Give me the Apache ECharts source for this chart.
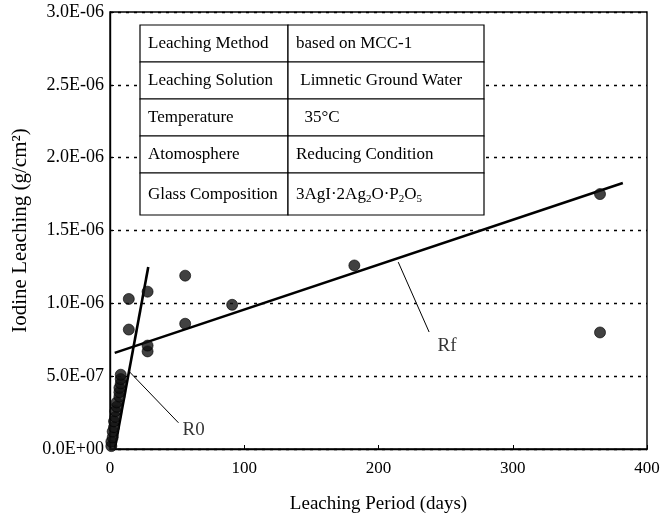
<!DOCTYPE html>
<html>
<head>
<meta charset="UTF-8">
<title>Iodine Leaching</title>
<script src="https://cdn.jsdelivr.net/npm/echarts@6/dist/echarts.min.js"></script>
<style>
  html, body { margin: 0; padding: 0; background: #fff; }
  #chart { width: 672px; height: 526px; }
</style>
</head>
<body>
<div id="chart"></div>
<script>
// measured points: [days, g/cm2]
var measured = [
  [1, 0.02e-6], [1, 0.05e-6], [2, 0.08e-6], [2, 0.12e-6], [3, 0.15e-6],
  [3, 0.19e-6], [4, 0.22e-6], [4, 0.26e-6], [5, 0.29e-6], [5, 0.32e-6],
  [7, 0.36e-6], [7, 0.39e-6], [7, 0.42e-6], [8, 0.45e-6], [8, 0.48e-6], [8, 0.51e-6],
  [14, 0.82e-6], [14, 1.03e-6],
  [28, 0.67e-6], [28, 0.71e-6], [28, 1.08e-6],
  [56, 0.86e-6], [56, 1.19e-6],
  [91, 0.99e-6],
  [182, 1.26e-6],
  [365, 1.75e-6], [365, 0.80e-6]
];
// fitted lines
var lineR0 = [[3.5, 0], [28.5, 1.25e-6]];
var lineRf = [[3.5, 0.66e-6], [382, 1.826e-6]];
// leader lines to labels
var leaderR0 = [[14.5, 0.53e-6], [51, 0.18e-6]];
var leaderRf = [[214.7, 1.283e-6], [237.7, 0.803e-6]];
var labelPoints = [
  { name: 'R0', value: [54, 0.13e-6] },
  { name: 'Rf', value: [244, 0.71e-6] }
];
var xTicks = [0, 100, 200, 300, 400];
var yTickLabels = ['0.0E+00', '5.0E-07', '1.0E-06', '1.5E-06', '2.0E-06', '2.5E-06', '3.0E-06'];
var tableRows = [
  ['Leaching Method', 'based on MCC-1'],
  ['Leaching Solution', ' Limnetic Ground Water'],
  ['Temperature', '  35°C'],
  ['Atomosphere', 'Reducing Condition'],
  ['Glass Composition', '{m|3AgI·2Ag}{s|2}{m|O·P}{s|2}{m|O}{s|5}']
];

var serif = 'Liberation Serif';
var chart = echarts.init(document.getElementById('chart'));

// table as graphic elements
var tx = 140, col1 = 148, col2 = 196;
var rowTops = [25, 62, 99, 136, 173, 215];
var tableEls = [];
tableRows.forEach(function (row, i) {
  var y = rowTops[i], h = rowTops[i + 1] - rowTops[i];
  var mid = i === 4 ? y + 22 : y + h / 2;
  tableEls.push({ type: 'rect', shape: { x: tx, y: y, width: col1, height: h },
    style: { fill: '#fff', stroke: '#000', lineWidth: 1.2 }, z: 10 });
  tableEls.push({ type: 'rect', shape: { x: tx + col1, y: y, width: col2, height: h },
    style: { fill: '#fff', stroke: '#000', lineWidth: 1.2 }, z: 10 });
  tableEls.push({ type: 'text', x: tx + 8, y: mid, z: 11,
    style: { text: row[0], font: '17px "' + serif + '"', fill: '#000', verticalAlign: 'middle' } });
  tableEls.push({ type: 'text', x: tx + col1 + 8, y: mid, z: 11,
    style: { text: row[1], font: '17px "' + serif + '"', fill: '#000', verticalAlign: 'middle',
      rich: {
        m: { fontFamily: serif, fontSize: 17, lineHeight: 20 },
        s: { fontFamily: serif, fontSize: 11, lineHeight: 8, verticalAlign: 'bottom' }
      } } });
});

var lineStyleThick = { color: '#000', width: 2.6 };

chart.setOption({
  animation: false,
  textStyle: { fontFamily: serif, color: '#000' },
  grid: { left: 110, right: 25, top: 12, bottom: 77, show: true, borderColor: '#000', borderWidth: 1.4 },
  xAxis: {
    type: 'value', min: 0, max: 400, interval: 100,
    name: 'Leaching Period (days)', nameLocation: 'middle', nameGap: 46,
    nameTextStyle: { fontFamily: serif, fontSize: 19, color: '#000' },
    axisLine: { lineStyle: { color: '#000', width: 1.4 } },
    axisTick: { inside: true, length: 4, lineStyle: { color: '#000' } },
    axisLabel: { fontFamily: serif, fontSize: 17, color: '#000', margin: 11,
      formatter: function (v) { return xTicks.indexOf(v) >= 0 ? String(v) : ''; } },
    splitLine: { show: false }
  },
  yAxis: {
    type: 'value', min: 0, max: 3e-6, interval: 5e-7,
    name: 'Iodine Leaching (g/cm²)', nameLocation: 'middle', nameGap: 69,
    nameTextStyle: { fontFamily: serif, fontSize: 21, color: '#000' },
    axisLine: { lineStyle: { color: '#000', width: 1.4 } },
    axisTick: { inside: true, length: 4, lineStyle: { color: '#000' } },
    axisLabel: { fontFamily: serif, fontSize: 18, color: '#000', margin: 6,
      formatter: function (v) { return yTickLabels[Math.round(v / 5e-7)]; } },
    splitLine: { show: true, lineStyle: { color: '#000', width: 1.3, type: [3, 5] } }
  },
  graphic: tableEls,
  series: [
    { type: 'line', data: lineR0, symbol: 'none', lineStyle: lineStyleThick, z: 3 },
    { type: 'line', data: lineRf, symbol: 'none', lineStyle: lineStyleThick, z: 3 },
    { type: 'line', data: leaderR0, symbol: 'none', lineStyle: { color: '#000', width: 1 }, z: 3 },
    { type: 'line', data: leaderRf, symbol: 'none', lineStyle: { color: '#000', width: 1 }, z: 3 },
    { type: 'scatter', data: measured, symbol: 'circle', symbolSize: 11,
      itemStyle: { color: '#111', borderColor: '#000', borderWidth: 0.8 }, z: 4 },
    { type: 'scatter', data: labelPoints, symbolSize: 0, z: 5,
      label: { show: true, position: 'right', distance: 0, formatter: '{b}',
        fontFamily: serif, fontSize: 19, color: '#000' } }
  ]
});
</script>
</body>
</html>
